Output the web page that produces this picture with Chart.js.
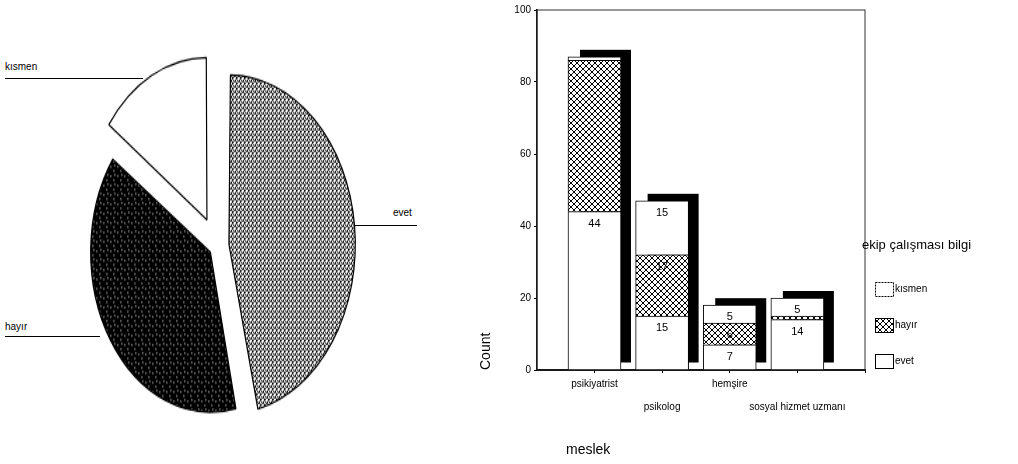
<!DOCTYPE html>
<html>
<head>
  <title>ekip çalışması bilgi</title>
  <script src="https://cdn.jsdelivr.net/npm/chart.js"></script>
  <style>
    body { margin: 0; background: #fff; font-family: "Liberation Sans", Arial, sans-serif; }
    #wrap { position: relative; width: 1018px; height: 464px; overflow: hidden; }
    #pieBox { position: absolute; left: 67px; top: 96px; width: 300px; height: 300px; transform: scaleY(1.34); transform-origin: 50% 50%; }
    #barBox { position: absolute; left: 460px; top: 0; width: 558px; height: 464px; }
    .lbl { position: absolute; font-size: 10px; color: #000; }
    .line { position: absolute; height: 0; border-top: 1.5px solid #000; }
  </style>
</head>
<body>
<div id="wrap">
  <div id="pieBox"><canvas id="pieChart"></canvas></div>
  <div class="lbl" style="left:5px;top:61px">kısmen</div>
  <div class="line" style="left:5px;top:78px;width:138px"></div>
  <div class="lbl" style="left:5px;top:321px">hayır</div>
  <div class="line" style="left:5px;top:336px;width:95px"></div>
  <div class="lbl" style="left:393px;top:207px">evet</div>
  <div class="line" style="left:355px;top:225px;width:62px"></div>
  <div id="barBox"><canvas id="barChart"></canvas></div>
</div>

<script>
  // pie: totals per answer
  const pieLabels = ['evet', 'hayır', 'kısmen'];
  const pieCounts = [80, 66, 26];
  const pieOffsets = [48, 32, 88];

  // bars: count per profession, stacked by answer
  const meslek = ['psikiyatrist', 'psikolog', 'hemşire', 'sosyal hizmet uzmanı'];
  const evet = [44, 15, 7, 14];
  const hayir = [42, 17, 6, 1];
  const kismen = [1, 15, 5, 5];
  const yTicks = [0, 20, 40, 60, 80, 100];
  const hiddenLabels = ['hayır:0']; // not readable in the picture

  function makePattern(size, draw) {
    const c = document.createElement('canvas');
    c.width = c.height = size;
    const g = c.getContext('2d');
    draw(g, size);
    return g.createPattern(c, 'repeat');
  }
  // hatch for evet slice
  const hatchLight = makePattern(4, (g, s) => {
    g.fillStyle = '#fff'; g.fillRect(0, 0, s, s);
    g.fillStyle = '#000';
    for (let i = 0; i < s; i++) g.fillRect(i, s - 1 - i, 1, 1);
    g.fillRect(0, 0, 1, 1);
    g.fillRect(2, 3, 1, 1);
    g.fillRect(1, 1, 1, 1);
  });
  // black with white specks for hayır slice
  const speckDark = makePattern(7, (g, s) => {
    g.fillStyle = '#000'; g.fillRect(0, 0, s, s);
    g.fillStyle = '#fff';
    g.fillRect(1, 2, 1, 1); g.fillRect(4, 5, 1, 1); g.fillRect(5, 1, 1, 1);
  });
  // cross hatch for hayır bars
  const crossHatch = makePattern(6, (g, s) => {
    g.fillStyle = '#fff'; g.fillRect(0, 0, s, s);
    g.fillStyle = '#000';
    for (let i = 0; i < s; i++) { g.fillRect(i, i, 1, 1); g.fillRect(i, s - 1 - i, 1, 1); }
  });

  new Chart(document.getElementById('pieChart'), {
    type: 'pie',
    data: {
      labels: pieLabels,
      datasets: [{
        data: pieCounts,
        backgroundColor: [hatchLight, speckDark, '#fff'],
        borderColor: '#000',
        borderWidth: 1.2,
        offset: pieOffsets,
        radius: 117
      }]
    },
    options: {
      responsive: true,
      maintainAspectRatio: false,
      animation: false,
      radius: 117,
      plugins: { legend: { display: false }, tooltip: { enabled: false } }
    }
  });

  const barShadow = {
    id: 'barShadow',
    beforeDatasetsDraw(chart) {
      const ctx = chart.ctx;
      const n = chart.data.datasets.length;
      const topMeta = chart.getDatasetMeta(n - 1);
      const baseMeta = chart.getDatasetMeta(0);
      ctx.save();
      ctx.fillStyle = '#000';
      topMeta.data.forEach((bar, i) => {
        const base = baseMeta.data[i].base;
        const w = bar.width;
        ctx.fillRect(bar.x - w / 2 + 12, bar.y - 7, w - 2, base - bar.y);
      });
      ctx.restore();
    }
  };

  const segLabels = {
    id: 'segLabels',
    afterDatasetsDraw(chart) {
      const ctx = chart.ctx;
      ctx.save();
      ctx.font = '11px "Liberation Sans", Arial, sans-serif';
      ctx.fillStyle = '#000';
      ctx.textAlign = 'center';
      ctx.textBaseline = 'middle';
      chart.data.datasets.forEach((ds, di) => {
        chart.getDatasetMeta(di).data.forEach((bar, i) => {
          const v = ds.data[i].y;
          if (v < 5 || hiddenLabels.includes(ds.label + ':' + i)) return;
          ctx.fillText(v, bar.x, bar.y + 12);
        });
      });
      ctx.restore();
    }
  };

  const frameAndLegend = {
    id: 'frameAndLegend',
    afterDraw(chart) {
      const ctx = chart.ctx;
      const a = chart.chartArea;
      ctx.save();
      ctx.strokeStyle = '#333';
      ctx.lineWidth = 1;
      ctx.strokeRect(a.left, a.top, a.right - a.left, a.bottom - a.top);

      // x axis title sits a little right of the axis start
      ctx.fillStyle = '#000';
      ctx.font = '14px "Liberation Sans", Arial, sans-serif';
      ctx.textAlign = 'left';
      ctx.textBaseline = 'middle';
      ctx.fillText('meslek', a.left + 29, chart.height - 14);

      ctx.font = '13px "Liberation Sans", Arial, sans-serif';
      ctx.fillText('ekip çalışması bilgi', a.right - 3, a.top + 235);

      ctx.font = '10px "Liberation Sans", Arial, sans-serif';
      const items = chart.data.datasets.slice().reverse();
      items.forEach((ds, k) => {
        const y = a.top + 279 + k * 36;
        const bx = a.right + 10;
        ctx.fillStyle = ds.backgroundColor;
        ctx.fillRect(bx, y - 7, 18, 14);
        ctx.strokeStyle = '#000';
        ctx.lineWidth = 1;
        ctx.setLineDash(ds.label === 'kısmen' ? [2, 1] : []);
        ctx.strokeRect(bx + 0.5, y - 6.5, 18, 14);
        ctx.setLineDash([]);
        ctx.fillStyle = '#000';
        ctx.fillText(ds.label, bx + 20, y);
      });
      ctx.restore();
    }
  };

  const toPoints = arr => arr.map((v, i) => ({ x: i, y: v }));

  new Chart(document.getElementById('barChart'), {
    type: 'bar',
    data: {
      datasets: [
        { label: 'evet', data: toPoints(evet), backgroundColor: '#fff' },
        { label: 'hayır', data: toPoints(hayir), backgroundColor: crossHatch },
        { label: 'kısmen', data: toPoints(kismen), backgroundColor: '#fff' }
      ]
    },
    options: {
      responsive: true,
      maintainAspectRatio: false,
      animation: false,
      layout: { padding: { top: 10, right: 153, bottom: 0, left: 0 } },
      datasets: { bar: { borderColor: '#000', borderWidth: 1, barThickness: 53 } },
      plugins: { legend: { display: false }, tooltip: { enabled: false } },
      scales: {
        x: {
          type: 'linear',
          stacked: true,
          offset: false,
          min: -0.85,
          max: 4.0,
          afterFit: s => { s.height = 94; },
          grid: { display: true, drawOnChartArea: false, drawTicks: true, tickLength: 3, color: '#000', offset: false },
          border: { color: '#000', width: 2 },
          ticks: {
            stepSize: 1,
            includeBounds: false,
            autoSkip: false,
            maxRotation: 0,
            color: '#000',
            padding: 0,
            font: { size: 10, family: '"Liberation Sans", Arial, sans-serif', lineHeight: 2.3 },
            callback: v => {
              const name = meslek[v];
              if (!Number.isInteger(v) || !name) return '';
              return v % 2 ? ['', name] : [name, ''];
            }
          }
        },
        y: {
          stacked: true,
          min: yTicks[0],
          max: yTicks[yTicks.length - 1],
          afterFit: s => { s.width = 77; },
          afterBuildTicks: s => { s.ticks = yTicks.map(v => ({ value: v })); },
          grid: { display: true, drawOnChartArea: false, drawTicks: true, tickLength: 3, color: '#000' },
          border: { color: '#000', width: 1.5 },
          ticks: {
            color: '#000',
            padding: 3,
            font: { size: 10, family: '"Liberation Sans", Arial, sans-serif' }
          },
          title: {
            display: true, text: 'Count', align: 'start', color: '#000',
            font: { size: 14, family: '"Liberation Sans", Arial, sans-serif' },
            padding: { top: 18, bottom: 0 }
          }
        }
      }
    },
    plugins: [barShadow, segLabels, frameAndLegend]
  });
</script>
</body>
</html>
